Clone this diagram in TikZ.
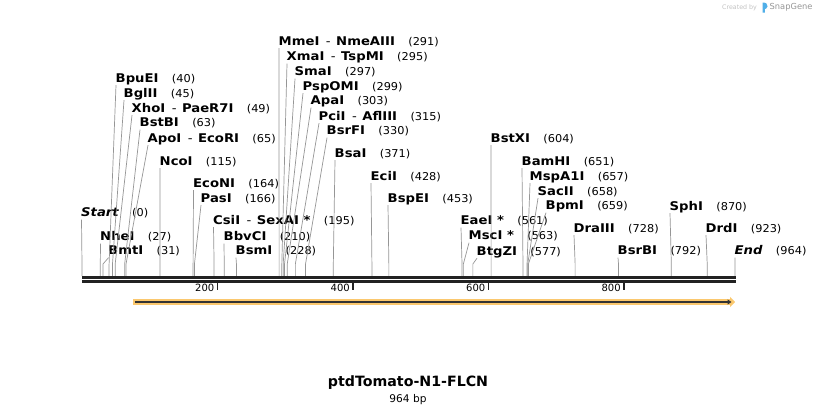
\documentclass[tikz,border=0pt]{standalone}
\usepackage{fontspec}
\setmainfont{DejaVu Sans}
\newfontfamily\enzfont[FakeStretch=1.1]{DejaVu Sans}
\newfontfamily\bpfont[FakeStretch=1.05]{DejaVu Sans}
\usetikzlibrary{positioning,arrows.meta}

\definecolor{cutgray}{RGB}{150,150,150}
\definecolor{bbblack}{RGB}{34,34,34}
\definecolor{featorange}{RGB}{251,200,110}
\definecolor{featline}{RGB}{51,51,51}
\definecolor{logogray}{RGB}{195,195,195}
\definecolor{snapgray}{RGB}{150,150,150}
\definecolor{snapblue}{RGB}{80,175,232}

\newcommand{\cutsep}{\hspace{6.5pt}{\mdseries-}\hspace{5.5pt}}

\begin{document}
\begin{tikzpicture}[x=1pt, y=-1pt,
			enz/.style     = {anchor=west, inner sep=0.5pt, text height=8.5pt, text depth=2.5pt, font=\fontsize{12}{14}\enzfont\bfseries},
			bp/.style      = {enz, font=\fontsize{10.8}{13}\bpfont},
			cut/.style     = {draw=cutgray, line width=0.7pt},
			tick/.style    = {draw=bbblack, line width=1.7pt},
			ticklab/.style = {anchor=east, inner sep=0pt, font=\fontsize{10}{11}\selectfont},
			>=latex]
			
			\fill[white] (0,0) rectangle (818,415);
			\useasboundingbox (0,0) rectangle (818,415);
			
			% enzyme sites: id / label / bp / label x / label y
			\foreach \id/\lab/\pos/\lx/\ly in {
				st/{\itshape Start}/0/82/213.5,
				nhe/NheI/27/101/237.5,
				bmt/BmtI/31/109/251.5,
				bpu/BpuEI/40/116.5/79,
				bgl/BglII/45/124.5/94,
				xho/{XhoI\cutsep PaeR7I}/49/132.5/109,
				bstb/BstBI/63/140.5/123.5,
				apo/{ApoI\cutsep EcoRI}/65/148.5/139,
				nco/NcoI/115/160.5/162,
				econ/EcoNI/164/194/184,
				pas/PasI/166/201.5/199,
				csi/{CsiI\cutsep SexAI *}/195/214/221,
				bbv/BbvCI/210/224.5/237.5,
				bsm/BsmI/228/236.5/251.5,
				mme/{MmeI\cutsep NmeAIII}/291/279.5/42,
				xma/{XmaI\cutsep TspMI}/295/287.5/57.5,
				sma/SmaI/297/295.5/72.5,
				psp/PspOMI/299/303.5/87,
				apa/ApaI/303/311.5/101.5,
				pci/{PciI\cutsep AflIII}/315/319.5/117,
				bsrf/BsrFI/330/327.5/131.5,
				bsa/BsaI/371/335.5/154,
				eci/EciI/428/371.5/177,
				bspe/BspEI/453/388.5/199,
				eae/{EaeI *}/561/461.5/221.5,
				msc/{MscI *}/563/469.5/236.5,
				btg/BtgZI/577/477.5/252,
				bstx/BstXI/604/491.5/139,
				bam/BamHI/651/522.5/162,
				msp/MspA1I/657/530.5/177,
				sac/SacII/658/538.5/192,
				bpm/BpmI/659/546.5/206.5,
				dra/DraIII/728/574.5/229,
				bsrb/BsrBI/792/618.5/251.5,
				sph/SphI/870/670.5/207,
				drd/DrdI/923/706.5/229,
				en/{\itshape End}/964/735.5/251.5}
			{
				\pgfmathsetmacro{\sx}{82+\pos*0.67739}
				\node[enz] (e\id) at (\lx-1.5,\ly) {\lab};
				\node[bp, right=12pt of e\id] (n\id) {(\pos)};
				\coordinate (k\id) at (\sx,264);
				\coordinate (s\id) at (\sx,276);
				\draw[cut] ([xshift=1pt]e\id.south west) -- (k\id) -- (s\id);
			}
			
			% backbone
			\coordinate (bbtl) at (82,277.6);
			\coordinate (bbtr) at (735.7,277.6);
			\coordinate (bbbl) at (82,281.4);
			\coordinate (bbbr) at (735.7,281.4);
			\draw[bbblack, line width=3.2pt] (bbtl) -- (bbtr);
			\draw[bbblack, line width=2.6pt] (bbbl) -- (bbbr);
			
			\foreach \t in {200,400,600,800}
			{
				\pgfmathsetmacro{\tx}{82+\t*0.67739}
				\coordinate (ta\t) at (\tx,282.5);
				\coordinate (tb\t) at (\tx,290);
				\draw[tick] (ta\t) -- (tb\t);
				\node[ticklab] (tl\t) at (\tx-3,288) {\t};
			}
			
			% feature arrow
			\coordinate (fa) at (133,302);
			\coordinate (fb) at (735,302);
			\coordinate (ga) at (134.5,302);
			\coordinate (gb) at (731.5,302);
			\draw[featorange, line width=5.5pt, -{Triangle[length=5pt,width=10pt]}] (fa) -- (fb);
			\draw[featline, line width=1.4pt, -{Triangle[length=4pt,width=5pt]}] (ga) -- (gb);
			
			% title
			\node[font=\fontsize{14.2}{16}\selectfont\bfseries, inner sep=0pt] (title) at (408,383) {ptdTomato-N1-FLCN};
			\node[font=\fontsize{10.6}{12}\selectfont, inner sep=0pt] (len) at (408,400) {964 bp};
			
			% logo
			\node[anchor=west, inner sep=0pt, text=logogray, font=\fontsize{6.3}{7}\selectfont] (made) at (722,7.5) {Created by};
			\fill[snapblue] (762.5,12.5) -- (762.5,2.5) .. controls (766,2.5) and (768,4) .. (767.5,6.5) .. controls (767,8.5) and (765.5,9) .. (764.8,9) -- (764.8,12.5) -- cycle;
			\node[anchor=west, inner sep=0pt, text=snapgray, font=\fontsize{8.3}{9}\selectfont] (brand) at (769.5,7.5) {SnapGene};
		\end{tikzpicture}
\end{document}
